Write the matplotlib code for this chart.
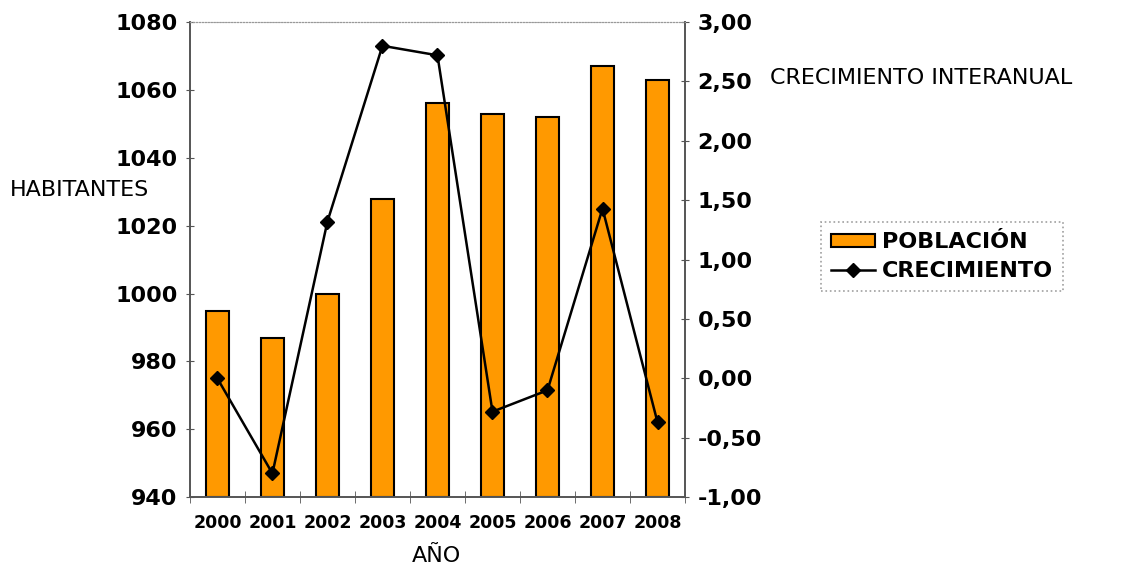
import matplotlib.pyplot as plt
import numpy as np

years = ["2000", "2001", "2002", "2003", "2004", "2005", "2006", "2007", "2008"]
poblacion = [995, 987, 1000, 1028, 1056, 1053, 1052, 1067, 1063]
crecimiento = [0.00, -0.80, 1.32, 2.80, 2.72, -0.28, -0.10, 1.43, -0.37]

left_ticks = [940, 960, 980, 1000, 1020, 1040, 1060, 1080]
right_ticks = [-1.0, -0.5, 0.0, 0.5, 1.0, 1.5, 2.0, 2.5, 3.0]


def fmt_es(v):
    return f"{v:.2f}".replace(".", ",")


plt.rcParams["font.family"] = ["DejaVu Sans"]

fig = plt.figure(figsize=(11.37, 5.65), dpi=100)
ax = fig.add_axes([0.167, 0.120, 0.4355, 0.841])
x = np.arange(len(years))

# bars on the left axis
bars = ax.bar(x, [p - 940 for p in poblacion], bottom=940, width=0.42,
              color="#FF9900", edgecolor="black", linewidth=1.5,
              label="POBLACIÓN", zorder=2)
ax.set_xlim(-0.5, len(years) - 0.5)
ax.set_ylim(940, 1080)
ax.set_yticks(left_ticks)
ax.set_yticklabels([str(t) for t in left_ticks], fontsize=16, fontweight="bold")
ax.set_xticks(x)
ax.set_xticklabels(years, fontsize=12.5, fontweight="bold")
ax.tick_params(axis="x", length=0, pad=12)
ax.set_xticks(np.arange(-0.5, len(years), 1), minor=True)
ax.tick_params(axis="x", which="minor", length=8, direction="inout", color="#555555")
ax.tick_params(axis="y", length=6, direction="inout", color="#555555", pad=6)

# line on the right axis
ax2 = ax.twinx()
line, = ax2.plot(x, crecimiento, color="black", linewidth=1.8, marker="D",
                 markersize=7, label="CRECIMIENTO", zorder=3)
ax2.set_ylim(-1.0, 3.0)
ax2.set_yticks(right_ticks)
ax2.set_yticklabels([fmt_es(t) for t in right_ticks], fontsize=16, fontweight="bold")
ax2.tick_params(axis="y", length=6, direction="inout", color="#555555", pad=6)

for a in (ax, ax2):
    a.spines["top"].set_linestyle(":")
    a.spines["top"].set_color("#999999")
    for s in ("left", "right", "bottom"):
        a.spines[s].set_color("#555555")
        a.spines[s].set_linewidth(1.2)

fig.text(0.009, 0.663, "HABITANTES", fontsize=16, va="center", ha="left")
fig.text(0.677, 0.862, "CRECIMIENTO INTERANUAL", fontsize=16, va="center", ha="left")
fig.text(0.384, 0.006, "AÑO", fontsize=16, va="baseline", ha="center")

leg = fig.legend(handles=[bars, line], loc="upper left",
                 bbox_to_anchor=(0.712, 0.626),
                 prop={"weight": "bold", "size": 16}, frameon=True,
                 fancybox=False, handlelength=2.0, handleheight=0.5,
                 handletextpad=0.3, borderpad=0.45, labelspacing=0.4)
leg.get_frame().set_edgecolor("#888888")
leg.get_frame().set_linestyle(":")
leg.get_frame().set_linewidth(1.2)

fig.savefig("out.png", dpi=100, facecolor="white")
